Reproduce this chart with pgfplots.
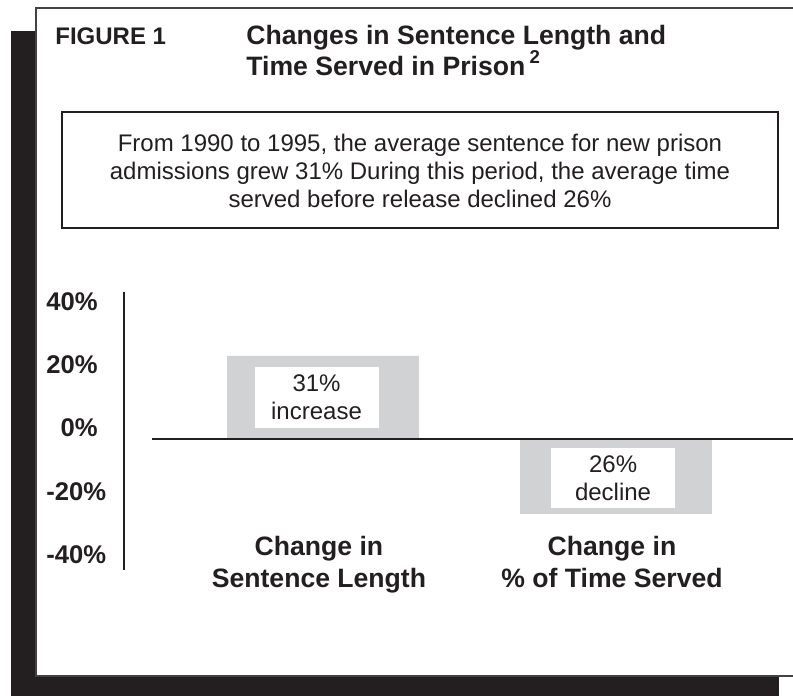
\documentclass[border=0pt]{standalone}
\usepackage{fontspec}
\setmainfont{Liberation Sans}
\usepackage{pgfplots}
\pgfplotsset{compat=1.18}
\definecolor{ink}{HTML}{231F20}
\definecolor{bargray}{HTML}{D1D2D4}
\begin{document}
\begin{tikzpicture}
\useasboundingbox (0,0) rectangle (396.5pt,348pt);
\clip (0,0) rectangle (396.5pt,348pt);
\begin{scope}[shift={(0pt,348pt)}, x=0.5pt, y=-0.5pt]
\fill[ink] (11,31) rectangle (779,696);
\filldraw[fill=white, draw=ink!85, line width=1pt] (36,8) rectangle (820,676);
\node[anchor=base west, inner sep=0pt, text=ink, font=\bfseries\fontsize{12}{14}\selectfont] at (55,45) {FIGURE 1};
\node[anchor=base west, inner sep=0pt, text=ink, font=\bfseries\fontsize{13.3}{15}\selectfont] at (246,45) {Changes in Sentence Length and};
\node[anchor=base west, inner sep=0pt, text=ink, font=\bfseries\fontsize{13.3}{15}\selectfont] at (246,76) {Time Served in Prison\,\raisebox{1pt}{\textsuperscript{2}}};
\draw[ink, line width=1pt] (62,112) rectangle (778,228);
\node[align=center, inner sep=0pt, text=ink, font=\fontsize{12}{14}\selectfont] at (420,171) {From 1990 to 1995, the average sentence for new prison\\admissions grew 31\% During this period, the average time\\served before release declined 26\%};
\end{scope}
\begin{axis}[
  at={(62pt,63pt)}, anchor=south west,
  scale only axis, width=334.5pt, height=139pt,
  xmin=-0.679, xmax=1.604, ymin=-41.4, ymax=46.4,
  axis lines*=left,
  x axis line style={draw=none},
  y axis line style={line width=1pt, draw=ink, -},
  ytick={-40,-20,0,20,40},
  yticklabels={-40\%,-20\%,\phantom{4}0\%,20\%,40\%},
  yticklabel style={anchor=west, inner sep=0pt, xshift=-39pt, yshift=5.5pt, text=ink, font=\bfseries\fontsize{12.8}{14}\selectfont},
  xtick={0,1},
  xticklabels={{Change in\\Sentence Length},{Change in\\\% of Time Served}},
  xticklabel style={align=center, inner sep=0pt, yshift=17pt, xshift=-2pt, text=ink, font=\bfseries\fontsize{13.3}{16}\selectfont},
  major tick length=0pt,
  ybar, bar width=0.655,
]
\addplot[fill=bargray, draw=none] coordinates {(0,26.2) (1,-23.7)};
\addplot[ink, line width=1pt, sharp plot] coordinates {(-0.584,0) (1.7,0)};
\node[fill=white, minimum width=62pt, minimum height=30.5pt, align=center, inner sep=0pt, text=ink, font=\fontsize{12}{14}\selectfont] at (axis cs:-0.022,13.1) {31\%\\increase};
\node[fill=white, minimum width=62pt, minimum height=30pt, align=center, inner sep=0pt, text=ink, font=\fontsize{12}{14}\selectfont] at (axis cs:0.99,-12.3) {26\%\\decline};
\end{axis}
\end{tikzpicture}
\end{document}
